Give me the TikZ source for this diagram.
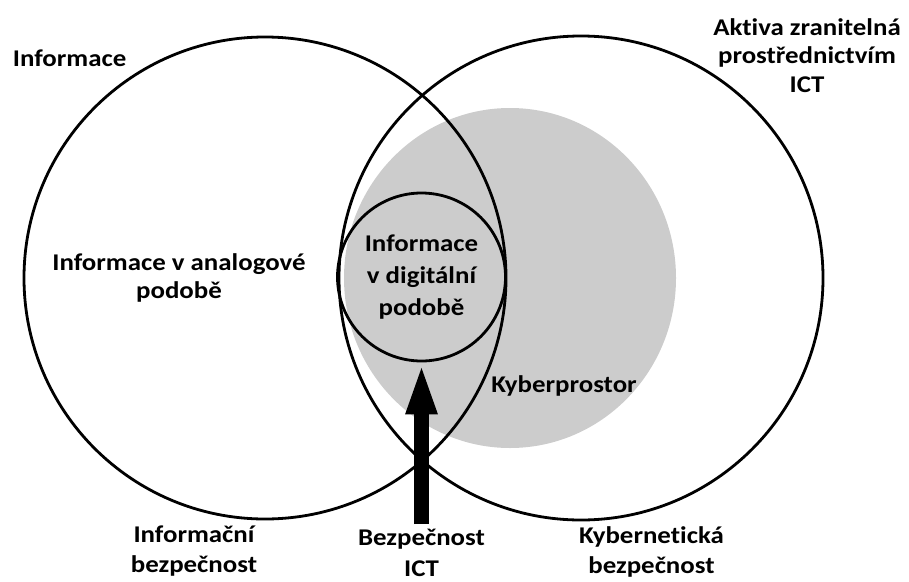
\documentclass[tikz,border=0pt]{standalone}
\usepackage{fontspec}
\setmainfont{Carlito}[FakeStretch=1.12,Ligatures=NoCommon]
\usetikzlibrary{arrows.meta}
\definecolor{cyber}{RGB}{204,204,204}
\begin{document}
\begin{tikzpicture}[x=1pt,y=-1pt,
  ring/.style={draw=black, line width=2.8pt, circle, inner sep=0pt},
  lbl/.style={inner sep=0pt, font=\bfseries\fontsize{24}{28.5}\selectfont},
]
\useasboundingbox (0,0) rectangle (909,581);
% cyberspace
\fill[cyber] (510,278) ellipse [x radius=166, y radius=170];
% big circles
\node[ring, minimum size=482pt] (info) at (265,278) {};
\node[ring, minimum size=484pt] (aktiva) at (581,278) {};
% inner circle
\node[ring, minimum size=168pt] (digi) at (421.5,277) {};
% arrow
\coordinate (abase) at (421.5,524);
\draw[line width=15pt, -{Triangle[length=52pt,width=28pt]}] (abase) -- (digi.south);
% labels
\node[lbl, anchor=base west] (tInfo) at (12.7,66) {Informace};
\node[lbl, anchor=base] (tAktiva) at (807,35) {\begin{tabular}[t]{@{}c@{}}Aktiva zranitelná\\prostřednictvím\\ICT\end{tabular}};
\node[lbl, anchor=base] (tAnalog) at (179,270) {\begin{tabular}[t]{@{}c@{}}Informace v analogové\\podobě\end{tabular}};
\node[lbl, anchor=base, font=\bfseries\fontsize{24}{32}\selectfont] (tDigi) at (421.5,251.7) {\begin{tabular}[t]{@{}c@{}}Informace\\v digitální\\podobě\end{tabular}};
\node[lbl, anchor=base] (tKyber) at (564,392.7) {Kyberprostor};
\node[lbl, anchor=base, font=\bfseries\fontsize{24}{30}\selectfont] (tInfBez) at (194,542) {\begin{tabular}[t]{@{}c@{}}Informační\\bezpečnost\end{tabular}};
\node[lbl, anchor=base, font=\bfseries\fontsize{24}{31}\selectfont] (tICT) at (421.5,545) {\begin{tabular}[t]{@{}c@{}}Bezpečnost\\ICT\end{tabular}};
\node[lbl, anchor=base, font=\bfseries\fontsize{24}{30}\selectfont] (tKybBez) at (651.5,543.3) {\begin{tabular}[t]{@{}c@{}}Kybernetická\\bezpečnost\end{tabular}};
\end{tikzpicture}
\end{document}
